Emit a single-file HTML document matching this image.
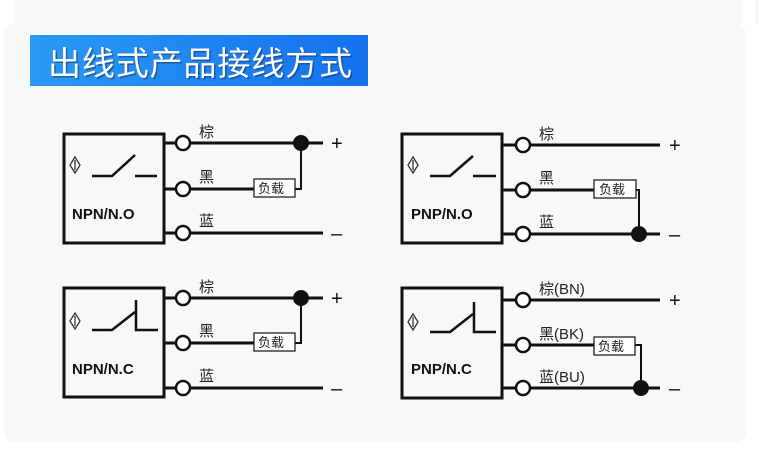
<!DOCTYPE html>
<html><head><meta charset="utf-8"><style>
body{margin:0;background:#fff;width:767px;height:461px;overflow:hidden;}
svg{display:block}
text{font-family:"Liberation Sans","Noto Sans CJK SC",sans-serif;}
</style></head><body>
<svg width="767" height="461" viewBox="0 0 767 461">
<rect x="0" y="0" width="767" height="461" fill="#fff"/>
<rect x="15" y="0" width="728" height="24" fill="#f8f9fb"/>
<rect x="4" y="24" width="742" height="418" rx="10" fill="#f7f8fa"/>
<line x1="757" y1="0" x2="757" y2="24" stroke="#e4e6ea"/>
<defs><linearGradient id="g" x1="0" x2="1"><stop offset="0" stop-color="#2a9af5"/><stop offset="1" stop-color="#1371ee"/></linearGradient></defs>
<rect x="30" y="35" width="338" height="51" fill="url(#g)"/>
<text x="48" y="75" font-size="33" fill="#1a3a70" opacity="0.6" transform="translate(1.5,1.5)" textLength="304" style="font-family:'Noto Sans CJK SC',sans-serif">出线式产品接线方式</text>
<text x="48" y="75" font-size="33" fill="#fff" textLength="304" style="font-family:'Noto Sans CJK SC',sans-serif">出线式产品接线方式</text>

<g stroke="#111" fill="none" stroke-width="3">
<rect x="64" y="134" width="100" height="109"/>
<path d="M164 143H176M164 189H176M164 233H176"/>
<path d="M190 143H323M190 189H254M190 233H323" />
<path d="M295 189H301V143" stroke-width="2"/>
<rect x="402" y="134" width="100" height="109"/>
<path d="M502 145H516M502 190H516M502 234H516"/>
<path d="M530 145H660M530 190H594M530 234H660"/>
<path d="M636 190H639V234" stroke-width="2"/>
<rect x="64" y="288" width="100" height="109"/>
<path d="M164 298H176M164 343H176M164 388H176"/>
<path d="M190 298H323M190 343H254M190 388H323"/>
<path d="M295 343H301V298" stroke-width="2"/>
<rect x="402" y="288" width="100" height="110"/>
<path d="M502 300H516M502 345H516M502 388H516"/>
<path d="M530 300H660M530 345H594M530 388H660"/>
<path d="M635 345H641V388" stroke-width="2"/>
</g>
<g stroke="#111" fill="#fff" stroke-width="2.5">
<circle cx="183" cy="143" r="7"/><circle cx="183" cy="189" r="7"/><circle cx="183" cy="233" r="7"/>
<circle cx="523" cy="145" r="7"/><circle cx="523" cy="190" r="7"/><circle cx="523" cy="234" r="7"/>
<circle cx="183" cy="298" r="7"/><circle cx="183" cy="343" r="7"/><circle cx="183" cy="388" r="7"/>
<circle cx="523" cy="300" r="7"/><circle cx="523" cy="345" r="7"/><circle cx="523" cy="388" r="7"/>
</g>
<g fill="#111">
<circle cx="301" cy="143" r="8"/><circle cx="639" cy="234" r="8"/>
<circle cx="301" cy="298" r="8"/><circle cx="641" cy="388" r="8"/>
</g>
<g stroke="#222" fill="#fff" stroke-width="1.3">
<rect x="254" y="179" width="41" height="18"/><rect x="594" y="180" width="42" height="18"/>
<rect x="254" y="333" width="41" height="18"/><rect x="594" y="337" width="41" height="18"/>
</g>
<g font-size="13" fill="#222" style="font-family:'Noto Sans CJK SC',sans-serif">
<text x="258" y="193">负载</text><text x="599" y="194">负载</text>
<text x="258" y="347">负载</text><text x="598" y="351">负载</text>
</g>
<g stroke="#111" fill="none" stroke-width="2.5">
<path d="M92 176H112L135 155M135 176H157"/>
<path d="M430 176H450L473 156M473 176H496"/>
<path d="M92 330H112L135 312M136 300V330H158"/>
<path d="M430 332H450L473 314M474 302V332H496"/>
</g>
<g stroke="#333" fill="#fff" stroke-width="1.3">
<path d="M75 157L70 165L75 173L80 165Z"/><path d="M413 157L408 165L413 173L418 165Z"/>
<path d="M75 313L70 321L75 329L80 321Z"/><path d="M413 314L408 322L413 330L418 322Z"/>
<path d="M75 160V170M413 160V170M75 316V326M413 317V327"/>
</g>
<g font-size="15" font-weight="bold" fill="#111">
<text x="72" y="219">NPN/N.O</text><text x="411" y="219">PNP/N.O</text>
<text x="72" y="374">NPN/N.C</text><text x="411" y="374">PNP/N.C</text>
</g>
<g font-size="15" fill="#222" style="font-family:'Liberation Sans','Noto Sans CJK SC',sans-serif">
<text x="199" y="137">棕</text><text x="199" y="182">黑</text><text x="199" y="226">蓝</text>
<text x="539" y="139">棕</text><text x="539" y="183">黑</text><text x="539" y="227">蓝</text>
<text x="199" y="292">棕</text><text x="199" y="336">黑</text><text x="199" y="381">蓝</text>
<text x="539" y="294">棕(BN)</text><text x="539" y="339">黑(BK)</text><text x="539" y="382">蓝(BU)</text>
</g>
<g font-size="20" fill="#111">
<text x="331" y="150">+</text><text x="331" y="240">–</text>
<text x="669" y="152">+</text><text x="669" y="241">–</text>
<text x="331" y="305">+</text><text x="331" y="395">–</text>
<text x="669" y="307">+</text><text x="669" y="395">–</text>
</g>
</svg>
</body></html>
